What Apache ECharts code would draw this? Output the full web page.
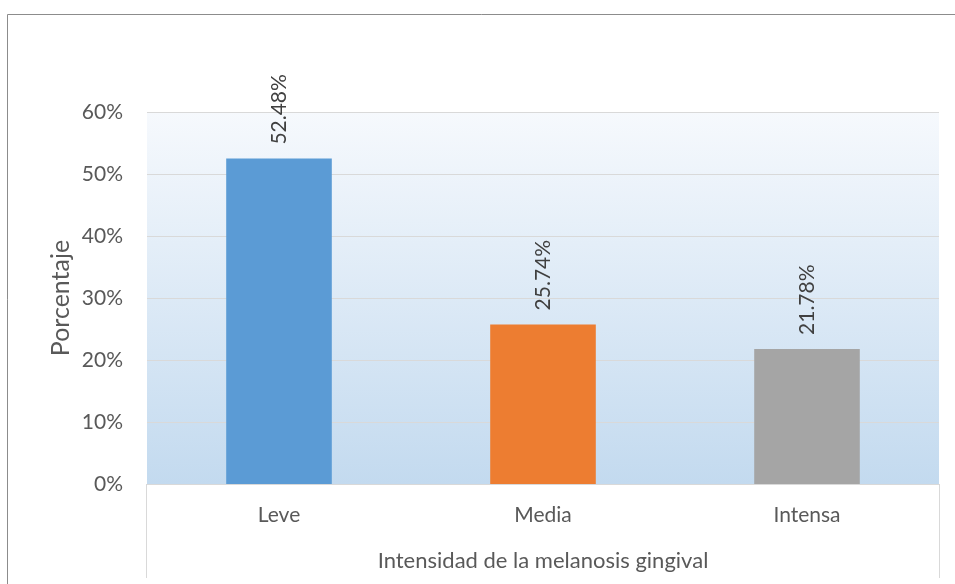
<!DOCTYPE html>
<html>
<head>
<meta charset="utf-8">
<script src="https://cdn.jsdelivr.net/npm/echarts@6/dist/echarts.min.js"></script>
<style>
  html, body { margin: 0; padding: 0; background: #fff; overflow: hidden; }
  #chart { width: 955px; height: 584px; }
</style>
</head>
<body>
<div id="chart"></div>
<script>
// datos
var categorias = ['Leve', 'Media', 'Intensa'];
var porcentajes = [52.48, 25.74, 21.78];
var colores = ['#5b9bd5', '#ed7d31', '#a5a5a5'];

var fuente = 'Lato';
var gris = '#595959';

var chart = echarts.init(document.getElementById('chart'));
chart.setOption({
	backgroundColor : '#ffffff',
	animation : false,
	grid : {
		left : 147,
		right : 16,
		top : 112,
		bottom : 100,
		outerBoundsMode : 'none',
		show : true,
		borderWidth : 0,
		backgroundColor : new echarts.graphic.LinearGradient(0, 0, 0, 1, [ {
			offset : 0,
			color : '#f6f9fd'
		}, {
			offset : 1,
			color : '#c3daef'
		} ])
	},
	xAxis : {
		type : 'category',
		data : categorias,
		name : 'Intensidad de la melanosis gingival',
		nameLocation : 'middle',
		nameGap : 66,
		nameMoveOverlap : false,
		nameTextStyle : {
			fontFamily : fuente,
			fontSize : 22,
			color : gris
		},
		axisLine : {
			lineStyle : {
				color : '#d9d9d9',
				width : 1
			}
		},
		axisTick : {
			show : false
		},
		axisLabel : {
			fontFamily : fuente,
			fontSize : 21,
			color : gris,
			margin : 21
		}
	},
	yAxis : {
		type : 'value',
		min : 0,
		max : 60,
		interval : 10,
		name : 'Porcentaje',
		nameLocation : 'middle',
		nameGap : 74,
		nameMoveOverlap : false,
		nameTextStyle : {
			fontFamily : fuente,
			fontSize : 25,
			color : gris
		},
		axisLine : {
			show : false
		},
		axisTick : {
			show : false
		},
		axisLabel : {
			fontFamily : fuente,
			fontSize : 21,
			color : gris,
			margin : 24,
			formatter : '{value}%'
		},
		splitLine : {
			lineStyle : {
				color : '#d9d9d9',
				width : 1
			}
		}
	},
	series : [ {
		type : 'bar',
		barWidth : '40%',
		data : porcentajes.map(function(v, i) {
			return {
				value : v,
				itemStyle : {
					color : colores[i]
				}
			};
		}),
		label : {
			show : true,
			position : 'top',
			rotate : 90,
			align : 'left',
			verticalAlign : 'middle',
			distance : 14,
			fontFamily : fuente,
			fontSize : 21,
			color : '#404040',
			formatter : function(p) {
				return p.value.toFixed(2) + '%';
			}
		}
	} ],
	graphic : [ {
		// marco exterior (sin borde derecho)
		type : 'line',
		shape : {
			x1 : 7.5,
			y1 : 14.5,
			x2 : 955,
			y2 : 14.5
		},
		style : {
			stroke : '#8c8c8c',
			lineWidth : 1
		},
		silent : true
	}, {
		type : 'line',
		shape : {
			x1 : 7.5,
			y1 : 14.5,
			x2 : 7.5,
			y2 : 584
		},
		style : {
			stroke : '#8c8c8c',
			lineWidth : 1
		},
		silent : true
	}, {
		type : 'line',
		shape : {
			x1 : 146.5,
			y1 : 484,
			x2 : 146.5,
			y2 : 578
		},
		style : {
			stroke : '#d9d9d9',
			lineWidth : 1
		}
	}, {
		type : 'line',
		shape : {
			x1 : 939.5,
			y1 : 484,
			x2 : 939.5,
			y2 : 578
		},
		style : {
			stroke : '#d9d9d9',
			lineWidth : 1
		}
	} ]
});
</script>
</body>
</html>
